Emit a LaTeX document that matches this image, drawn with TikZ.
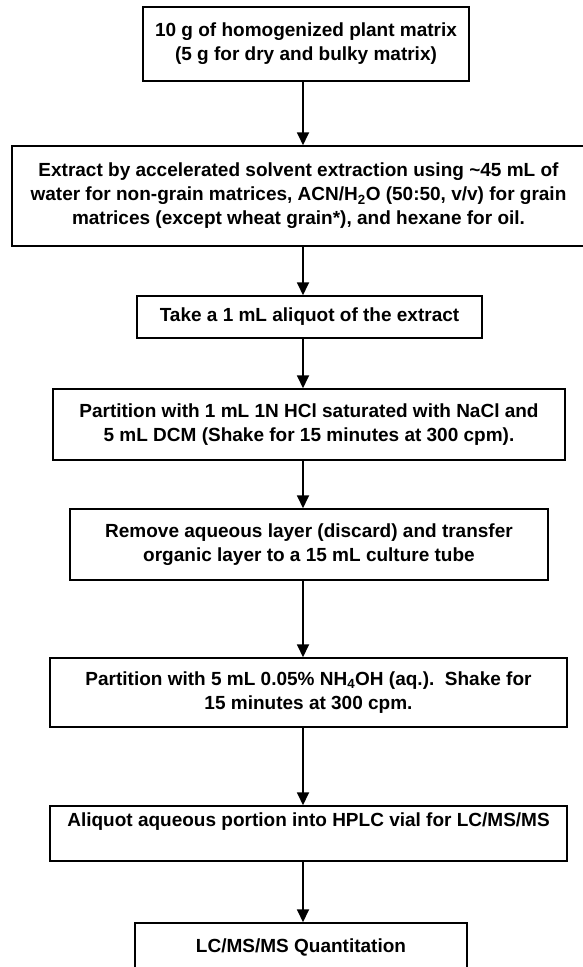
\documentclass[tikz,border=0pt]{standalone}
\usepackage{fontspec}
\setmainfont{Liberation Sans}
\usetikzlibrary{arrows.meta,positioning}

\begin{document}
\begin{tikzpicture}[x=1pt, y=-1pt,
    stepbox/.style={draw, line width=1.5pt, align=center, inner sep=4pt,
      font=\fontsize{19}{24}\selectfont\bfseries},
    flow/.style={line width=1.8pt, -{Triangle[width=12pt,length=13pt]}}]
  \useasboundingbox (0,0) rectangle (582,967);
  % column of the arrows
  \coordinate (axis) at (303,0);

  % sample
  \node[stepbox, minimum width=326pt, minimum height=74pt] (sample) at (306,44)
    {10 g of homogenized plant matrix\\(5 g for dry and bulky matrix)};

  % extraction
  \node[stepbox, minimum width=573pt, minimum height=100pt] (extract) at (298.5,196)
    {Extract by accelerated solvent extraction using \textasciitilde45 mL of\\
     water for non-grain matrices, ACN/H\textsubscript{2}O (50:50, v/v) for grain\\
     matrices (except wheat grain*), and hexane for oil.};

  % aliquot
  \node[stepbox, minimum width=345pt, minimum height=42pt] (aliquot) at (309.5,317)
    {Take a 1 mL aliquot of the extract};

  % first partition
  \node[stepbox, minimum width=512pt, minimum height=71pt] (hcl) at (309,424.5)
    {Partition with 1 mL 1N HCl saturated with NaCl and\\
     5 mL DCM (Shake for 15 minutes at 300 cpm).};

  % organic layer
  \node[stepbox, minimum width=478pt, minimum height=71pt] (organic) at (309,544.5)
    {Remove aqueous layer (discard) and transfer\\
     organic layer to a 15 mL culture tube};

  % second partition
  \node[stepbox, minimum width=517pt, minimum height=69pt] (base) at (308.5,692.5)
    {Partition with 5 mL 0.05\% NH\textsubscript{4}OH (aq.).\ \ Shake for\\
     15 minutes at 300 cpm.};

  % vial
  \node[stepbox, minimum width=517pt, text height=14pt, text depth=29pt,
    inner ysep=6pt] (vial) at (308.5,833.5)
    {Aliquot aqueous portion into HPLC vial for LC/MS/MS};

  % quantitation
  \node[stepbox, minimum width=332pt, minimum height=49pt] (quant) at (301,947.5)
    {LC/MS/MS Quantitation};

  \draw[flow] (sample.south -| axis) -- (extract.north -| axis);
  \draw[flow] (extract.south -| axis) -- (aliquot.north -| axis);
  \draw[flow] (aliquot.south -| axis) -- (hcl.north -| axis);
  \draw[flow] (hcl.south -| axis) -- (organic.north -| axis);
  \draw[flow] (organic.south -| axis) -- (base.north -| axis);
  \draw[flow] (base.south -| axis) -- (vial.north -| axis);
  \draw[flow] (vial.south -| axis) -- (quant.north -| axis);
\end{tikzpicture}
\end{document}
